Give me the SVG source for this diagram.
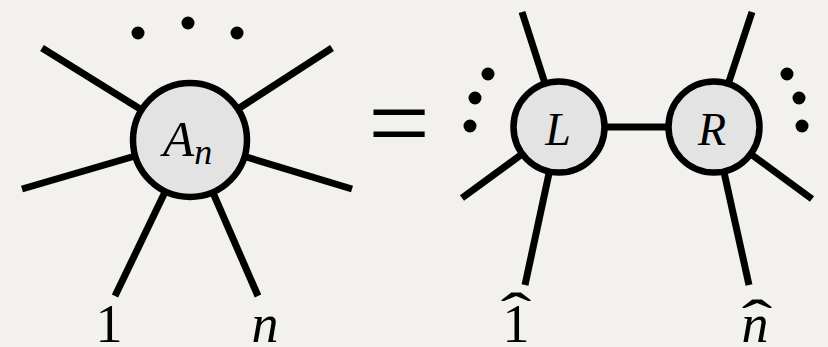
<svg xmlns="http://www.w3.org/2000/svg" width="828" height="347" viewBox="0 0 828 347">
<style>
.ln{stroke:#000;stroke-width:7;fill:none;stroke-linecap:butt}
.nd{fill:#e3e3e3;stroke:#000;stroke-width:6.5}
.dot{fill:#000}
.it{font-family:'Liberation Serif','Times New Roman','DejaVu Serif',serif;font-style:italic;fill:#000}
.rm{font-family:'Liberation Serif','Times New Roman','DejaVu Serif',serif;font-style:normal;fill:#000}
</style>
<rect width="828" height="347" fill="#f3f1ed"/>
<g id="connectors">
<line class="ln" x1="42" y1="48" x2="190" y2="140"/>
<line class="ln" x1="332" y1="48" x2="190" y2="140"/>
<line class="ln" x1="22" y1="189" x2="190" y2="140"/>
<line class="ln" x1="352" y1="189" x2="190" y2="140"/>
<line class="ln" x1="115" y1="296" x2="190" y2="140"/>
<line class="ln" x1="258" y1="296" x2="190" y2="140"/>
<line class="ln" x1="522" y1="12" x2="559" y2="127"/>
<line class="ln" x1="462" y1="198" x2="559" y2="127"/>
<line class="ln" x1="525" y1="285" x2="559" y2="127"/>
<line class="ln" x1="559" y1="127" x2="714" y2="127"/>
<line class="ln" x1="752" y1="12" x2="714" y2="127"/>
<line class="ln" x1="812" y1="199" x2="714" y2="127"/>
<line class="ln" x1="749" y1="285" x2="714" y2="127"/>
</g>
<g id="dots">
<circle class="dot" cx="138" cy="33" r="6.5"/>
<circle class="dot" cx="188" cy="23" r="6.5"/>
<circle class="dot" cx="237" cy="33" r="6.5"/>
<circle class="dot" cx="488" cy="74" r="6.5"/>
<circle class="dot" cx="475" cy="98" r="6.5"/>
<circle class="dot" cx="470" cy="126" r="6.5"/>
<circle class="dot" cx="787" cy="74" r="6.5"/>
<circle class="dot" cx="799" cy="98" r="6.5"/>
<circle class="dot" cx="802" cy="126" r="6.5"/>
</g>
<g id="An">
<circle class="nd" cx="190" cy="140" r="57"/>
<text class="it" x="163" y="156" font-size="51">A<tspan font-size="36" dy="8">n</tspan></text>
</g>
<g id="L">
<circle class="nd" cx="559" cy="127" r="45.5"/>
<text class="it" x="558" y="145" font-size="46" text-anchor="middle">L</text>
</g>
<g id="R">
<circle class="nd" cx="714" cy="127" r="45.5"/>
<text class="it" x="712" y="145" font-size="46" text-anchor="middle">R</text>
</g>
<g id="labels">
<text class="rm" x="109" y="342" font-size="54" text-anchor="middle">1</text>
<text class="it" x="265" y="342" font-size="54" text-anchor="middle">n</text>
<text class="rm" x="516" y="342" font-size="54" text-anchor="middle">1</text>
<text class="rm" transform="translate(516,331) scale(1.7,1)" font-size="54" text-anchor="middle">ˆ</text>
<text class="it" x="755" y="342" font-size="54" text-anchor="middle">n</text>
<text class="rm" transform="translate(757,338) scale(1.7,1)" font-size="54" text-anchor="middle">ˆ</text>
<text class="rm" x="399" y="160" font-size="110" text-anchor="middle">=</text>
</g>
</svg>
